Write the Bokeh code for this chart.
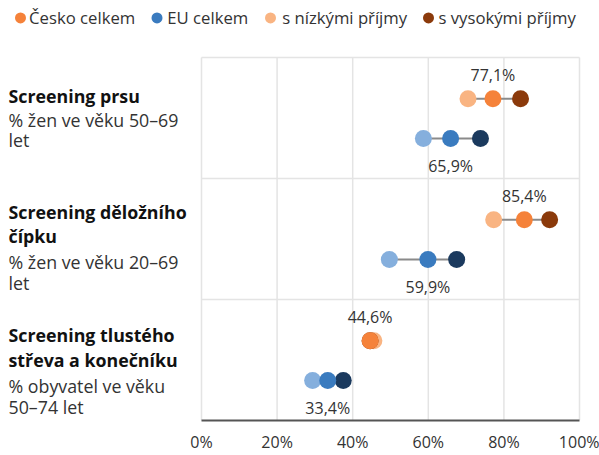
from bokeh.plotting import figure
from bokeh.models import Range1d, FixedTicker
from bokeh.embed import file_html
from bokeh.resources import INLINE
from bokeh.core.properties import value

# ---------------- data ----------------
titles = [["Screening prsu"],
          ["Screening děložního", "čípku"],
          ["Screening tlustého", "střeva a konečníku"]]
subtitles = [["% žen ve věku 50–69", "let"],
             ["% žen ve věku 20–69", "let"],
             ["% obyvatel ve věku", "50–74 let"]]
cz_low = [70.5, 77.3, 45.6]
cz_all = [77.1, 85.4, 44.6]
cz_high = [84.4, 92.1, 44.6]
eu_low = [58.7, 49.7, 29.4]
eu_all = [65.9, 59.9, 33.4]
eu_high = [73.8, 67.5, 37.5]
legend_labels = ["Česko celkem", "EU celkem", "s nízkými příjmy", "s vysokými příjmy"]
x_ticks = [0, 20, 40, 60, 80, 100]
x_tick_labels = ["0%", "20%", "40%", "60%", "80%", "100%"]

# ---------------- styles / layout (pixels inside the figure) ----------------
FONT = "Open Sans"
TXT = "#333333"
GRID = "#e4e4e4"
CZ_COLS = ["#f9b482", "#f5823a", "#8b3a0b"]
EU_COLS = ["#85afdd", "#3a7bbf", "#1b3a5e"]
LEG_COLS = [CZ_COLS[1], EU_COLS[1], CZ_COLS[0], CZ_COLS[2]]
W, H = 599, 455
FX0, FX1 = 201, 579          # pixel x of 0 % and 100 %
FY_TOP, FY_BOT = 57.5, 423   # pixel y of top of the groups and of the axis
NG = len(titles)
SX = (FX1 - FX0) / 100.0
PXU = (FY_BOT - FY_TOP) / NG
CZ_OFF, EU_OFF = 41.5, 81.5
LEFT_PX = 8
TSHIFT = 4
title_offsets = [[42.5], [38, 62], [40, 65]]
sub_offsets = [[66.5, 86.5], [88, 109], [91, 112]]
leg_dot_px = [20, 156.5, 270, 428]
leg_txt_px = [28.6, 166.8, 281.7, 438]
LEG_Y_PX = 17.5


def px2x(px):
    return (px - FX0) / SX


def py2y(py):
    return (FY_BOT - py) / PXU


p = figure(width=W, height=H,
           x_range=Range1d(px2x(0), px2x(W)), y_range=Range1d(0, py2y(0)),
           output_backend="svg", toolbar_location=None, y_axis_location=None,
           min_border_left=0, min_border_right=0, min_border_top=0,
           min_border_bottom=H - FY_BOT)
p.outline_line_color = None
p.grid.visible = False

ax = p.xaxis[0]
ax.ticker = FixedTicker(ticks=x_ticks)
ax.bounds = (x_ticks[0], x_ticks[-1])
ax.major_label_overrides = {t: l for t, l in zip(x_ticks, x_tick_labels)}
ax.major_tick_line_color = None
ax.minor_tick_line_color = None
ax.major_tick_out = 0
ax.major_tick_in = 0
ax.minor_tick_out = 0
ax.axis_line_color = "#555555"
ax.axis_line_width = 2
ax.major_label_text_font = FONT
ax.major_label_text_font_size = "16px"
ax.major_label_text_color = TXT
ax.major_label_standoff = 10

# grid: vertical lines at ticks, horizontal separators between groups
p.segment(x0=x_ticks, y0=[0] * len(x_ticks), x1=x_ticks, y1=[NG] * len(x_ticks),
          line_color=GRID, line_width=1.5)
seps = list(range(1, NG + 1))
p.segment(x0=[x_ticks[0]] * len(seps), y0=seps, x1=[x_ticks[-1]] * len(seps), y1=seps,
          line_color=GRID, line_width=1.5)

tops = [NG - g for g in range(NG)]
cz_y = [t - CZ_OFF / PXU for t in tops]
eu_y = [t - EU_OFF / PXU for t in tops]


def fmt(v):
    return f"{v:.1f}%".replace(".", ",")


for ys, lo, mid, hi, cols in [(cz_y, cz_low, cz_all, cz_high, CZ_COLS),
                              (eu_y, eu_low, eu_all, eu_high, EU_COLS)]:
    x0 = [min(a, b, c) for a, b, c in zip(lo, mid, hi)]
    x1 = [max(a, b, c) for a, b, c in zip(lo, mid, hi)]
    p.segment(x0=x0, y0=ys, x1=x1, y1=ys, line_color="#8a8a8a", line_width=2)
    p.scatter(lo, ys, size=17, color=cols[0], line_color=None)
    p.scatter(hi, ys, size=17, color=cols[2], line_color=None)
    p.scatter(mid, ys, size=17, color=cols[1], line_color=None)

p.text(cz_all, [y + (20 + TSHIFT) / PXU for y in cz_y], text=[fmt(v) for v in cz_all],
       text_font=value(FONT), text_font_size="16px", text_color=TXT,
       text_align="center", text_baseline="alphabetic")
p.text(eu_all, [y - (32 - TSHIFT) / PXU for y in eu_y], text=[fmt(v) for v in eu_all],
       text_font=value(FONT), text_font_size="16px", text_color=TXT,
       text_align="center", text_baseline="alphabetic")

# category labels on the left
tx, ty, sx_, sy_ = [], [], [], []
t_txt, s_txt = [], []
for g in range(NG):
    for line, off in zip(titles[g], title_offsets[g]):
        tx.append(px2x(LEFT_PX)); ty.append(tops[g] - (off - TSHIFT) / PXU); t_txt.append(line)
    for line, off in zip(subtitles[g], sub_offsets[g]):
        sx_.append(px2x(LEFT_PX)); sy_.append(tops[g] - (off - TSHIFT) / PXU); s_txt.append(line)
p.text(tx, ty, text=t_txt, text_font=value(FONT), text_font_size="17.8px",
       text_font_style="bold", text_color="#111111", text_baseline="alphabetic")
p.text(sx_, sy_, text=s_txt, text_font=value(FONT), text_font_size="17.8px",
       text_color=TXT, text_baseline="alphabetic")

# legend
ly = [py2y(LEG_Y_PX)] * len(legend_labels)
p.scatter([px2x(v) for v in leg_dot_px], ly, size=11, color=LEG_COLS, line_color=None)
p.text([px2x(v) for v in leg_txt_px], ly, text=legend_labels, text_font=value(FONT),
       text_font_size="16.7px", text_color=TXT, text_baseline="middle", text_align="left")

open("out.html", "w").write(file_html(p, INLINE))
